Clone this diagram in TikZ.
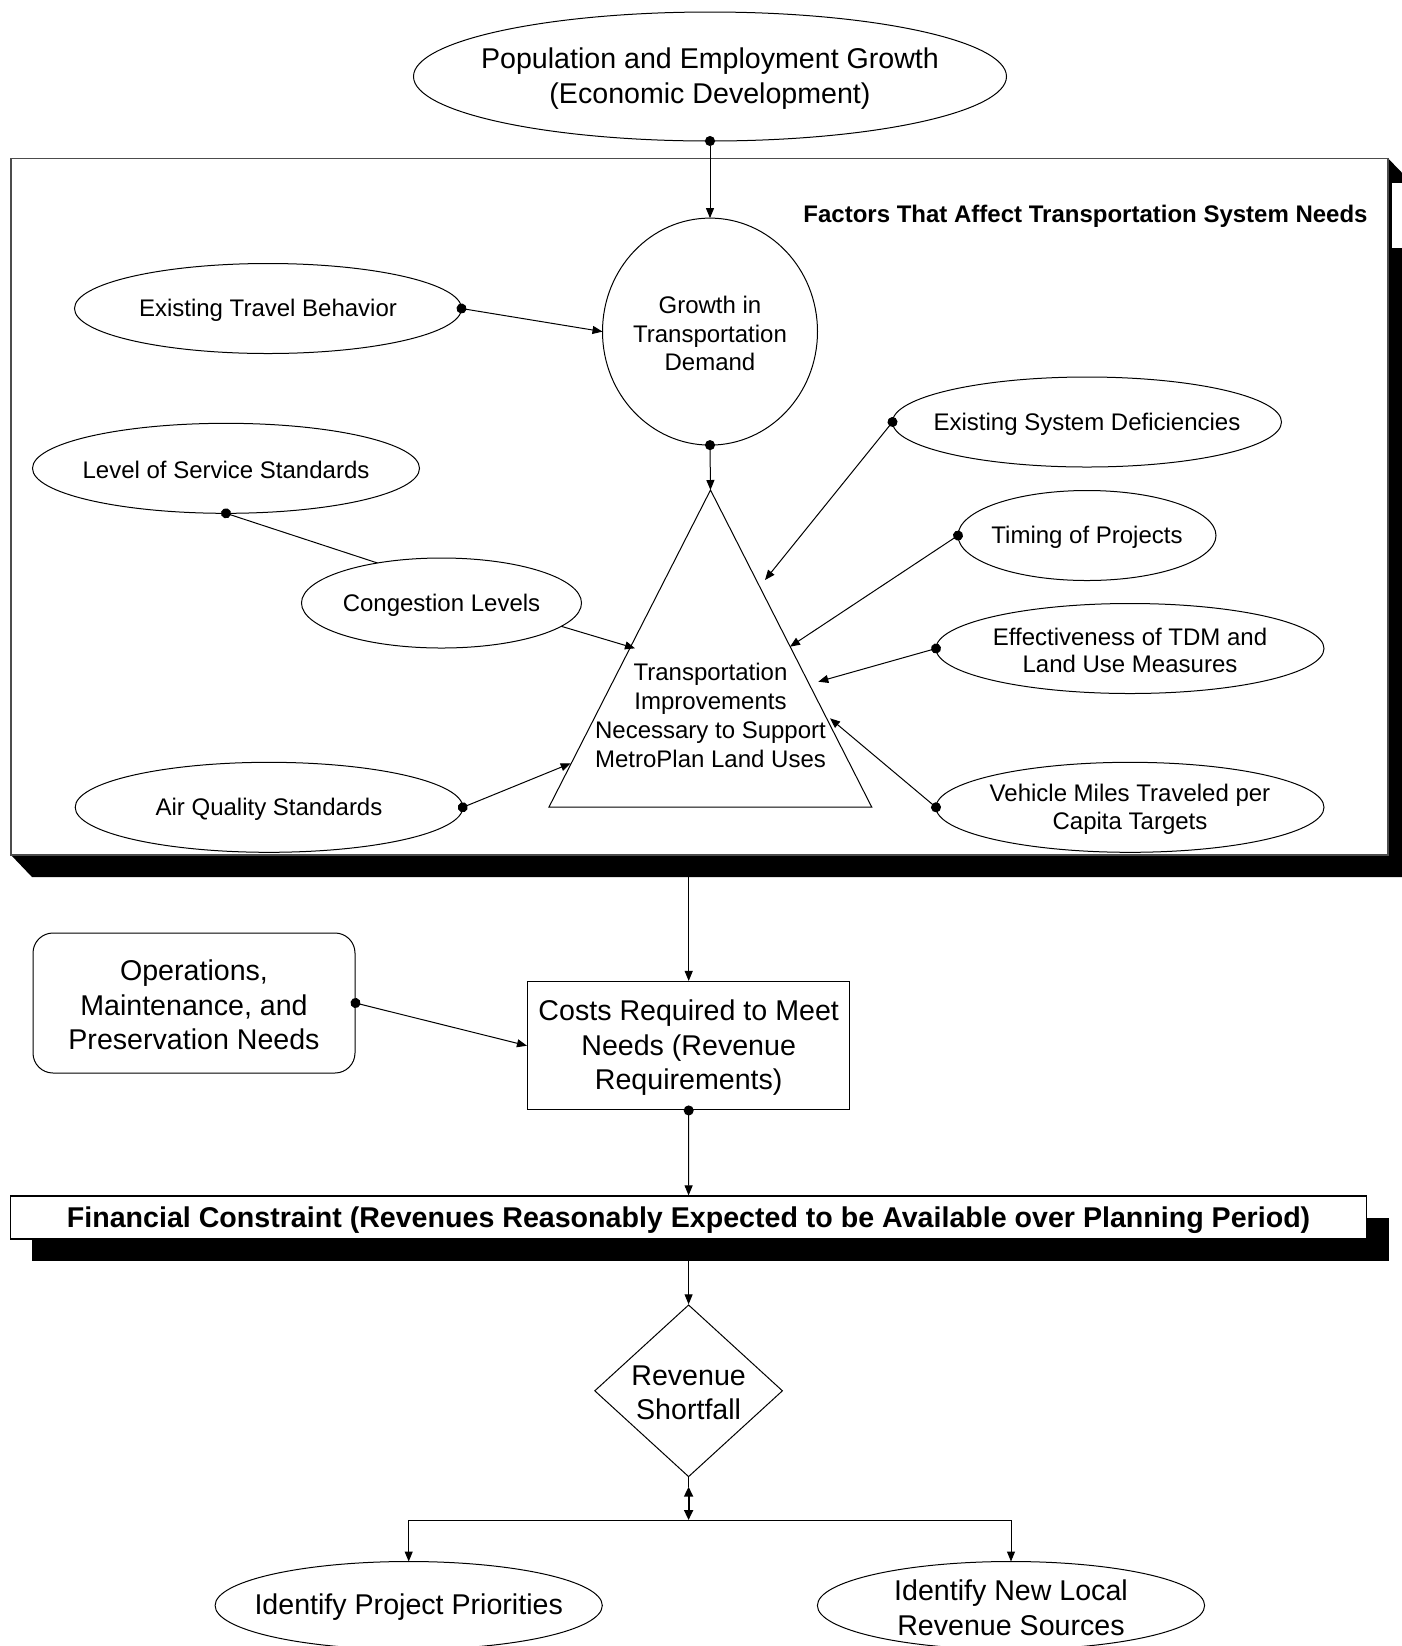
\documentclass[tikz,border=0pt]{standalone}
\usepackage{fontspec}
\setmainfont{Liberation Sans}
\usetikzlibrary{shapes.geometric,arrows.meta,calc}
\begin{document}
\begin{tikzpicture}[x=0.5pt,y=-0.5pt,
  ln/.style={line width=0.5pt},
  arr/.style={ln,-{Triangle[length=5pt,width=4pt]}},
  darr/.style={ln,{Circle[length=5pt]}-{Triangle[length=5pt,width=4pt]},shorten <=-2.5pt},
  dline/.style={ln,{Circle[length=5pt]}-,shorten <=-2.5pt},
  sm/.style={font=\fontsize{12}{14.4}\selectfont},
  lg/.style={font=\fontsize{14.3}{17.3}\selectfont},
  oval/.style 2 args={ellipse,draw,line width=0.5pt,fill=white,inner sep=0pt,outer sep=0pt,minimum width=#1,minimum height=#2},
  tl/.style={sm,align=center,inner sep=0pt,yshift=-1pt},
  tlg/.style={lg,align=center,inner sep=0pt,yshift=-1pt}]
\clip (0,0) rectangle (1402,1646);
\fill[white] (0,0) rectangle (1402,1646);

% ---------- top ellipse
\node[oval={296.5pt}{64.5pt},label={[tlg]center:{Population and Employment Growth\\(Economic Development)}}] (pop) at (710,76.5) {};

% ---------- big frame with 3D shadow
\fill[black] (1388,158.3) -- (1409,180) -- (1409,877) -- (32,877) -- (11,855) -- (1388,855) -- cycle;
\draw[line width=0.8pt,draw=black!70,fill=white] (11,158.3) rectangle (1388,855);
\fill[white] (1392,183) rectangle (1402,248);
\node[anchor=east,font=\bfseries\fontsize{12}{14.4}\selectfont,inner sep=0pt] (title) at (1368,216) {Factors That Affect Transportation System Needs};

% ---------- growth circle
\node[oval={107.5pt}{113.5pt},label={[tl]center:{Growth in\\Transportation\\Demand}}] (growth) at (710,331.6) {};

% ---------- triangle
\coordinate (apex) at (710.5,490);
\draw[ln] (apex) -- (871.7,807) -- (549,807) -- cycle;
\node[tl,font=\fontsize{12}{14.5}\selectfont] (tri) at (710.5,713) {Transportation\\Improvements\\Necessary to Support\\MetroPlan Land Uses};

% ---------- left ellipses
\node[oval={193.5pt}{45pt},label={[tl]center:{Existing Travel Behavior}}] (etb) at (268,308.5) {};
\node[oval={193.5pt}{45pt},label={[tl]center:{Level of Service Standards}}] (los) at (226,468.3) {};
\node[oval={140pt}{45pt},label={[tl]center:{Congestion Levels}}] (cong) at (441.5,603) {};
\node[oval={193.8pt}{45pt},label={[tl]center:{Air Quality Standards}}] (aq) at (269,807.3) {};

% ---------- right ellipses
\node[oval={194.5pt}{45pt},label={[tl]center:{Existing System Deficiencies}}] (esd) at (1087,422) {};
\node[oval={129pt}{45pt},label={[tl]center:{Timing of Projects}}] (tim) at (1087,535.5) {};
\node[oval={194pt}{45pt},label={[tl,font=\fontsize{12}{13.5}\selectfont]center:{Effectiveness of TDM and\\Land Use Measures}}] (tdm) at (1130,648.5) {};
\node[oval={194pt}{45pt},label={[tl,font=\fontsize{12}{14.4}\selectfont]center:{Vehicle Miles Traveled per\\Capita Targets}}] (vmt) at (1130,807.3) {};

% ---------- ends on triangle
\coordinate (t1) at (635,648.3);
\coordinate (t2) at (570.7,763.3);
\coordinate (t3) at (765,580);
\coordinate (t4) at (790,646.7);
\coordinate (t5) at (818.3,681.7);
\coordinate (t6) at (830,718.3);

% ---------- connectors in frame
\draw[darr] (pop.south) -- (growth.north);
\draw[darr] (growth.south) -- (apex);
\draw[darr] (etb.east) -- (growth.west);
\draw[dline] (los.south) -- (cong.148);
\draw[arr] (cong.-11) -- (t1);
\draw[darr] (aq.east) -- (t2);
\draw[darr] (esd.west) -- (t3);
\draw[darr] (tim.west) -- (t4);
\draw[darr] (tdm.west) -- (t5);
\draw[darr] (vmt.west) -- (t6);

% ---------- costs and operations
\coordinate (frb) at (688.7,877);
\node[draw,ln,inner sep=0pt,minimum width=161.25pt,minimum height=64.25pt,label={[tlg]center:{Costs Required to Meet\\Needs (Revenue\\Requirements)}}] (costs) at (688.7,1045.7) {};
\node[draw,ln,rounded corners=10pt,inner sep=0pt,minimum width=161pt,minimum height=70pt,label={[tlg]center:{Operations,\\Maintenance, and\\Preservation Needs}}] (ops) at (194,1003) {};
\draw[arr] (frb) -- (costs.north);
\draw[darr] (ops.east) -- (costs.west);

% ---------- financial constraint bar
\fill[black] (32,1218) rectangle (1389,1261);
\node[draw,line width=0.6pt,fill=white,inner sep=0pt,minimum width=677.9pt,minimum height=21.5pt] (fin) at (688.6,1217.5) {};
\node[font=\bfseries\fontsize{14.3}{17.3}\selectfont,inner sep=0pt] (fintext) at (688.6,1220.5) {Financial Constraint (Revenues Reasonably Expected to be Available over Planning Period)};
\draw[darr] (costs.south) -- (fin.north);
\coordinate (finb) at (688.6,1261);

% ---------- revenue shortfall
\node[diamond,draw,ln,inner sep=0pt,minimum width=94pt,minimum height=86pt,label={[tlg]center:{Revenue\\Shortfall}}] (rs) at (688.6,1390.8) {};
\draw[arr] (finb) -- (rs.north);
\coordinate (junc) at (688.6,1520);
\coordinate (rsb) at (688.6,1486.7);
\draw[ln] (rs.south) -- (rsb);
\draw[line width=1pt,{Triangle[length=5pt,width=4.5pt]}-{Triangle[length=5pt,width=4.5pt]}] (rsb) -- (junc);

% ---------- bottom ellipses
\node[oval={193.6pt}{44pt},label={[tlg]center:{Identify Project Priorities}}] (ipp) at (408.7,1605.5) {};
\node[oval={193.6pt}{44pt},label={[tlg]center:{Identify New Local\\Revenue Sources}}] (inl) at (1011,1605.5) {};
\draw[arr] (junc) -| (ipp.north);
\draw[arr] (junc) -| (inl.north);
\end{tikzpicture}
\end{document}
